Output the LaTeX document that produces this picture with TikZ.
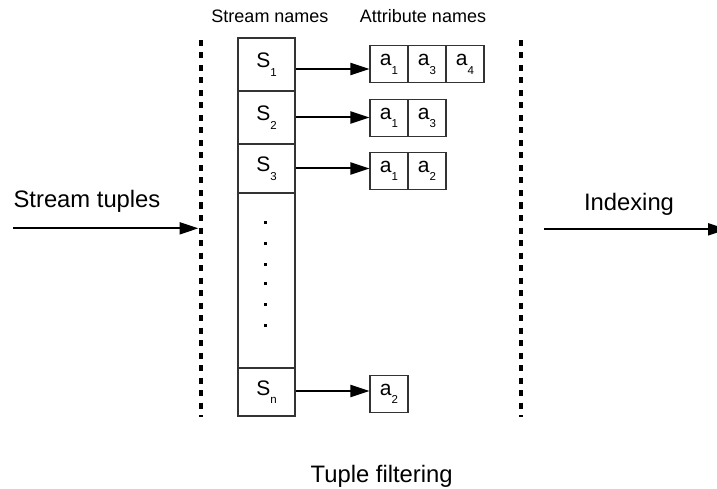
\documentclass[tikz,border=0pt]{standalone}
\usepackage{fontspec}
\setmainfont{Liberation Sans}
\usetikzlibrary{arrows.meta}
\newcommand\mysubs[1]{\raisebox{-8.5pt}{\fontsize{11.5}{13}\selectfont #1}}
\tikzset{
  cell/.style={draw=black!80, line width=1.1pt, inner sep=0pt, fill=white, font=\fontsize{21}{24}\selectfont},
  scell/.style={cell, minimum width=57pt},
  acell/.style={cell, minimum width=38pt, minimum height=37pt},
  conn/.style={line width=2pt, -{Triangle[length=19pt,width=12pt]}},
  bigconn/.style={line width=2pt, -{Triangle[length=19pt,width=12pt]}},
  sep/.style={line width=3.5pt, dash pattern=on 6pt off 6.5pt},
  lab/.style={font=\fontsize{18}{20}\selectfont, anchor=base, inner sep=0pt},
  biglab/.style={font=\fontsize{23.8}{27}\selectfont, anchor=base, inner sep=0pt}
}
\begin{document}
\begin{tikzpicture}[x=1pt,y=-1pt]
\clip (0,0) rectangle (717,489);
\fill[white] (0,0) rectangle (717,489);

% separators
\coordinate (L1) at (201,40);
\coordinate (L2) at (201,417);
\coordinate (R1) at (521,40);
\coordinate (R2) at (521,417);
\draw[sep] (L1) -- (L2);
\draw[sep] (R1) -- (R2);

% headers
\node[lab] (hs) at (270,22.5) {Stream names};
\node[lab] (ha) at (423,22.5) {Attribute names};

% stream column
\node[scell, minimum height=53pt] (S1) at (266.5,64.5) {S\mysubs{1}};
\node[scell, minimum height=53pt] (S2) at (266.5,117.5) {S\mysubs{2}};
\node[scell, minimum height=49pt] (S3) at (266.5,168.5) {S\mysubs{3}};
\node[scell, minimum height=175pt] (SD) at (266.5,280.5) {};
\node[scell, minimum height=48pt] (Sn) at (266.5,392) {S\mysubs{n}};

% dots
\foreach \yy in {225,246,267.3,286.7,307.3,328.3}
  \fill (264.2,\yy-1.5) rectangle ++(3,-3);

% attribute cells
\node[acell] (A11) at (389,64.3) {a\mysubs{1}};
\node[acell] (A12) at (427,64.3) {a\mysubs{3}};
\node[acell] (A13) at (465,64.3) {a\mysubs{4}};
\node[acell] (A21) at (389,118) {a\mysubs{1}};
\node[acell] (A22) at (427,118) {a\mysubs{3}};
\node[acell] (A31) at (389,170.8) {a\mysubs{1}};
\node[acell] (A32) at (427,170.8) {a\mysubs{2}};
\node[acell] (An1) at (389,394) {a\mysubs{2}};

% connectors
\draw[conn] ([yshift=-4.5pt]S1.east) -- ([yshift=-4.5pt]S1.east -| A11.west);
\draw[conn] (S2.east) -- (S2.east -| A21.west);
\draw[conn] (S3.east) -- (S3.east -| A31.west);
\draw[conn] ([yshift=1pt]Sn.east) -- ([yshift=1pt]Sn.east -| An1.west);

% side labels and arrows
\node[biglab] (st) at (87,207.3) {Stream tuples};
\node[biglab] (ix) at (629,210.7) {Indexing};
\node[biglab] (tf) at (381.7,482.7) {Tuple filtering};
\coordinate (inA) at (13,228.3);
\coordinate (inB) at (198.5,228.3);
\coordinate (outA) at (544.3,229.3);
\coordinate (outB) at (727,229.3);
\draw[bigconn] (inA) -- (inB);
\draw[bigconn] (outA) -- (outB);
\end{tikzpicture}
\end{document}
